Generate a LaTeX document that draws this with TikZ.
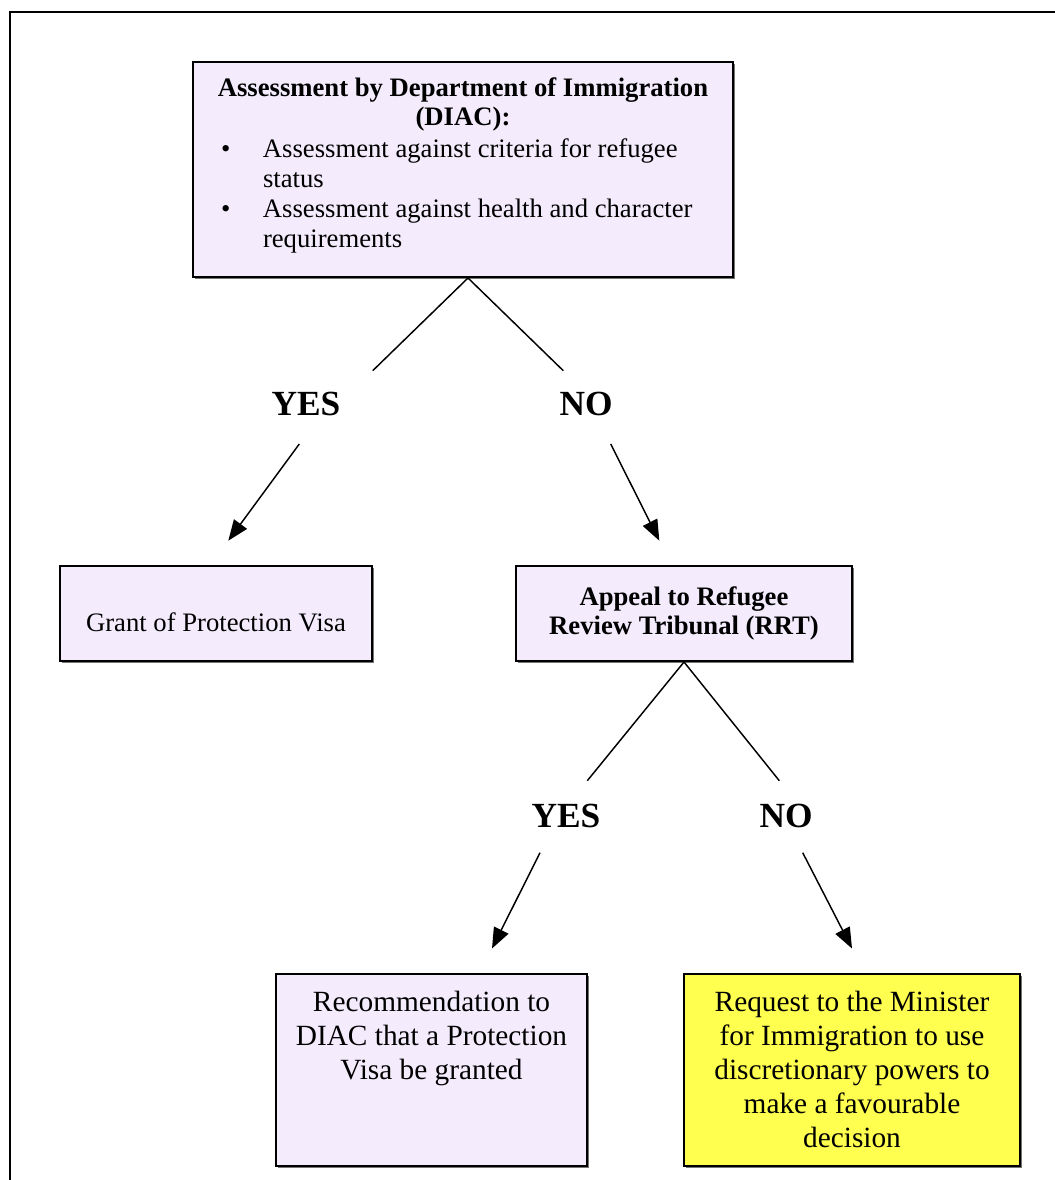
\documentclass[tikz,border=0pt]{standalone}
\usepackage{fontspec}
\setmainfont{Liberation Serif}
\usetikzlibrary{arrows.meta,shadows}
\definecolor{lav}{RGB}{244,236,253}
\definecolor{yel}{RGB}{255,255,80}
\newcommand{\bxtext}[4]{\parbox[c][#1][t]{#2}{\vspace*{#3}#4}}
\begin{document}
\begin{tikzpicture}[x=0.75pt,y=-0.75pt,
  box/.style={draw=black, line width=1.5pt, fill=lav, inner sep=0pt, anchor=north west,
    drop shadow={shadow xshift=1.3pt, shadow yshift=-1.3pt, fill=black!55, opacity=1}},
  ybox/.style={box, fill=yel},
  lbl/.style={font=\fontsize{26.5}{30}\selectfont\bfseries, inner sep=0pt, anchor=base},
  conn/.style={line width=1.1pt},
  arr/.style={line width=1.1pt, -{Triangle[length=15.5pt,width=12pt]}}]
\useasboundingbox (0,0) rectangle (1055,1180);
% outer frame
\draw[line width=2pt] (1060,12) -- (10,12) -- (10,1185);

% boxes
\node[box] (top) at (192,61) {\bxtext{161.25pt}{405pt}{10.3pt}{%
  {\centering\bfseries\fontsize{20}{21.75}\selectfont\strut Assessment by Department of Immigration\\ (DIAC):\par}%
  \vspace{2pt}%
  {\raggedright\fontsize{20}{22.5}\selectfont
  \hspace*{21pt}\makebox[31.5pt][l]{•}Assessment against criteria for refugee\\
  \hspace*{52.5pt}status\\
  \hspace*{21pt}\makebox[31.5pt][l]{•}Assessment against health and character\\
  \hspace*{52.5pt}requirements\par}}};

\node[box] (grant) at (59,565) {\bxtext{71.25pt}{234pt}{31.25pt}{%
  \centering\fontsize{20}{25}\selectfont\strut Grant of Protection Visa\par}};

\node[box] (appeal) at (515,565) {\bxtext{71.25pt}{252pt}{14.2pt}{%
  \centering\bfseries\fontsize{20}{21.75}\selectfont\strut Appeal to Refugee\\ Review Tribunal (RRT)\par}};

\node[box] (recom) at (275,973) {\bxtext{144pt}{233.25pt}{9.9pt}{%
  \centering\fontsize{22}{25.5}\selectfont\strut Recommendation to\\ DIAC that a Protection\\ Visa be granted\par}};

\node[ybox] (request) at (683,973) {\bxtext{144pt}{252pt}{9.9pt}{%
  \centering\fontsize{22}{25.5}\selectfont\strut Request to the Minister\\ for Immigration to use\\ discretionary powers to\\ make a favourable\\ decision\par}};

% labels
\node[lbl] (yes1) at (306,415) {YES};
\node[lbl] (no1) at (586,415) {NO};
\node[lbl] (yes2) at (566,827) {YES};
\node[lbl] (no2) at (786,827) {NO};

% free ends
\coordinate (a1) at (372.7,370.7);
\coordinate (a2) at (563.3,370.7);
\coordinate (s1) at (299.3,444);
\coordinate (t1) at (228.3,540.7);
\coordinate (s2) at (610.7,444);
\coordinate (t2) at (659.3,540.7);
\coordinate (b1) at (587.3,780.7);
\coordinate (b2) at (779.3,780.7);
\coordinate (s3) at (540,852.7);
\coordinate (t3) at (492,948.5);
\coordinate (s4) at (802.7,852.7);
\coordinate (t4) at (852,948.5);

% connectors
\draw[conn] (a1) -- ([xshift=3.75pt]top.south) -- (a2);
\draw[arr] (s1) -- (t1);
\draw[arr] (s2) -- (t2);
\draw[conn] (b1) -- (appeal.south) -- (b2);
\draw[arr] (s3) -- (t3);
\draw[arr] (s4) -- (t4);
\end{tikzpicture}
\end{document}
